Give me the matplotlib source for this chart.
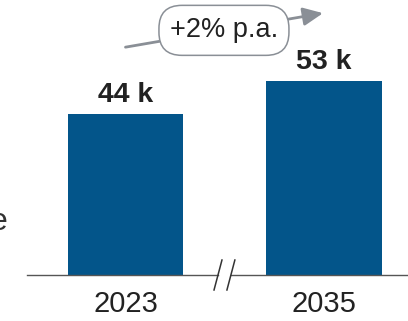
import matplotlib
matplotlib.use("Agg")
import matplotlib.pyplot as plt
import matplotlib.transforms as mtransforms
from matplotlib.patches import FancyBboxPatch

plt.rcParams["font.family"] = ["Liberation Sans", "DejaVu Sans"]

# --- data ---
years = ["2023", "2035"]
values = [44, 53]
value_labels = ["44 k", "53 k"]
growth_label = "+2% p.a."

BAR_COLOR = "#03558a"
TEXT_COLOR = "#222222"
ARROW_GRAY = "#8a8f96"
AXIS_GRAY = "#555555"

W, H = 408, 321
fig = plt.figure(figsize=(W / 100, H / 100), dpi=100)
ax = fig.add_axes([27 / W, 46 / H, 381 / W, 275 / H])

x = [0, 1]
ax.bar(x, values, width=0.58, color=BAR_COLOR)
ax.set_xlim(-0.496, 1.423)
ax.set_ylim(0, 75.2)

# value labels above each bar
for xi, v, lab in zip(x, values, value_labels):
    ax.annotate(lab, (xi, v), xytext=(0, 8.8), textcoords="offset points",
                ha="center", va="baseline", fontsize=20.5, fontweight="bold",
                color=TEXT_COLOR)

# year labels under the axis
ax.set_xticks(x)
ax.set_xticklabels(years, fontsize=21, color=TEXT_COLOR)
ax.tick_params(axis="x", length=0, pad=10.5)
ax.set_yticks([])
for s in ax.spines.values():
    s.set_visible(False)

# baseline with a gap for the axis break
ax.plot([-0.496, 0.466], [0, 0], color=AXIS_GRAY, lw=1, clip_on=False)
ax.plot([0.531, 1.423], [0, 0], color=AXIS_GRAY, lw=1, clip_on=False)
for x0 in (0.446, 0.511):
    ax.plot([x0, x0 + 0.04], [-4.1, 4.1], color="#333333", lw=1.1,
            clip_on=False)

# growth arrow with rate bubble
ax.annotate("", xy=(0.995, 71.6), xytext=(0.0, 62.3),
            arrowprops=dict(arrowstyle="-|>,head_length=1.2,head_width=0.55",
                            color=ARROW_GRAY, lw=2, shrinkA=0, shrinkB=0),
            annotation_clip=False)
bx, by = 0.496, 66.9
bubble_tf = fig.dpi_scale_trans + mtransforms.ScaledTranslation(bx, by, ax.transData)
bubble = FancyBboxPatch((-0.65, -0.25), 1.30, 0.50,
                        boxstyle="round,pad=0,rounding_size=0.23",
                        fc="white", ec=ARROW_GRAY, lw=1.1,
                        transform=bubble_tf, clip_on=False, zorder=4)
ax.add_patch(bubble)
ax.text(bx, by, growth_label, ha="center", va="center", fontsize=19.5,
        color=TEXT_COLOR, clip_on=False, zorder=5)

# cut-off side label at the left edge
fig.text(7 / W, 1 - 230 / H, "e", ha="right", va="baseline", fontsize=23,
         color="#333333")

fig.savefig("out.png", dpi=100)
